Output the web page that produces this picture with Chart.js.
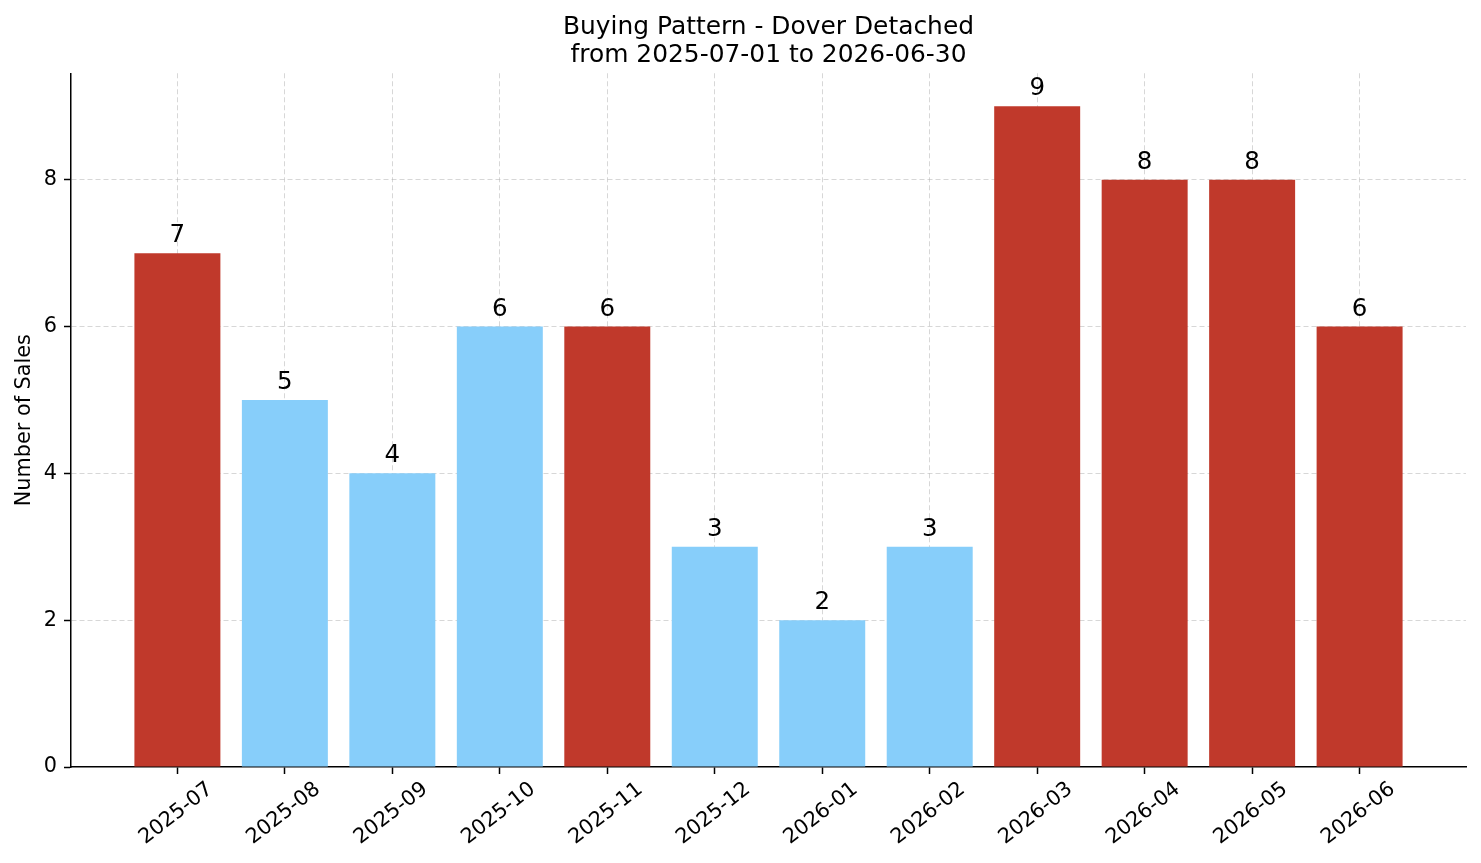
<!DOCTYPE html>
<html><head><meta charset="utf-8">
<script src="https://cdn.jsdelivr.net/npm/chart.js@4/dist/chart.umd.min.js"></script>
<style>html,body{margin:0;padding:0;background:#fff;overflow:hidden}</style>
</head><body>
<canvas id="c" width="1481" height="863"></canvas>
<script>
const categories = ['2025-07','2025-08','2025-09','2025-10','2025-11','2025-12','2026-01','2026-02','2026-03','2026-04','2026-05','2026-06'];
const sales = [7,5,4,6,6,3,2,3,9,8,8,6];
const highlighted = [true,false,false,false,true,false,false,false,true,true,true,true];
const yTicks = [0,2,4,6,8];
const titleLines = ['Buying Pattern - Dover Detached','from 2025-07-01 to 2026-06-30'];
const yAxisLabel = 'Number of Sales';

const RED = '#C0392B', BLUE = '#87CEFA';
const FONT = "'DejaVu Sans', sans-serif";
const GRID = 'rgba(176,176,176,0.5)';

const barLabels = {
  id: 'barLabels',
  afterDraw(chart) {
    const ctx = chart.ctx;
    const meta = chart.getDatasetMeta(0);
    ctx.save();
    ctx.font = '24.5px ' + FONT;
    ctx.fillStyle = '#000';
    ctx.textAlign = 'center';
    ctx.textBaseline = 'alphabetic';
    meta.data.forEach((bar, i) => {
      ctx.fillText(String(sales[i]), bar.x, bar.y - 11);
    });
    ctx.restore();
  }
};

new Chart(document.getElementById('c'), {
  type: 'bar',
  data: {
    datasets: [{
      data: sales.map((v, i) => ({x: i, y: v})),
      backgroundColor: highlighted.map(h => h ? RED : BLUE),
      borderWidth: 0,
      categoryPercentage: 1.0,
      barPercentage: 0.8
    }]
  },
  options: {
    responsive: false,
    animation: false,
    devicePixelRatio: 1,
    layout: {padding: {top: 0, left: 0, right: 15, bottom: 0}},
    plugins: {
      legend: {display: false},
      tooltip: {enabled: false},
      title: {
        display: true,
        text: titleLines,
        fullSize: false,
        color: '#000',
        font: {family: FONT, size: 24.9, weight: 'normal', lineHeight: 1.15},
        padding: {top: 13, bottom: 3}
      }
    },
    scales: {
      x: {
        type: 'linear',
        min: -0.99,
        max: 11.99,
        offset: false,
        z: 1,
        afterBuildTicks: (s) => { s.ticks = categories.map((_, i) => ({value: i})); },
        afterFit: (s) => { s.height = 96; },
        ticks: {
          callback: (v) => categories[v],
          color: '#000',
          font: {family: FONT, size: 20.8},
          minRotation: 38,
          maxRotation: 38,
          autoSkip: false,
          padding: 3,
          labelOffset: 33
        },
        grid: {
          offset: false,
          color: GRID,
          lineWidth: 1,
          drawTicks: true,
          tickLength: 7,
          tickColor: '#000',
          tickWidth: 1.5,
          tickBorderDash: []
        },
        border: {display: true, color: '#000', width: 1.5, dash: [5, 3]}
      },
      y: {
        min: 0,
        max: 9.45,
        z: 1,
        afterBuildTicks: (s) => { s.ticks = yTicks.map(v => ({value: v})); },
        afterFit: (s) => { s.width = 71; },
        ticks: {
          color: '#000',
          font: {family: FONT, size: 20.8},
          padding: 7
        },
        grid: {
          color: (c) => (c.tick && c.tick.value === 0) ? 'rgba(0,0,0,0)' : GRID,
          lineWidth: 1,
          drawTicks: true,
          tickLength: 7,
          tickColor: '#000',
          tickWidth: 1.5,
          tickBorderDash: []
        },
        border: {display: true, color: '#000', width: 1.5, dash: [5, 3]},
        title: {
          display: true,
          text: yAxisLabel,
          color: '#000',
          font: {family: FONT, size: 20.8},
          padding: {top: 12, bottom: 0}
        }
      }
    }
  },
  plugins: [barLabels]
});
</script>
</body></html>
